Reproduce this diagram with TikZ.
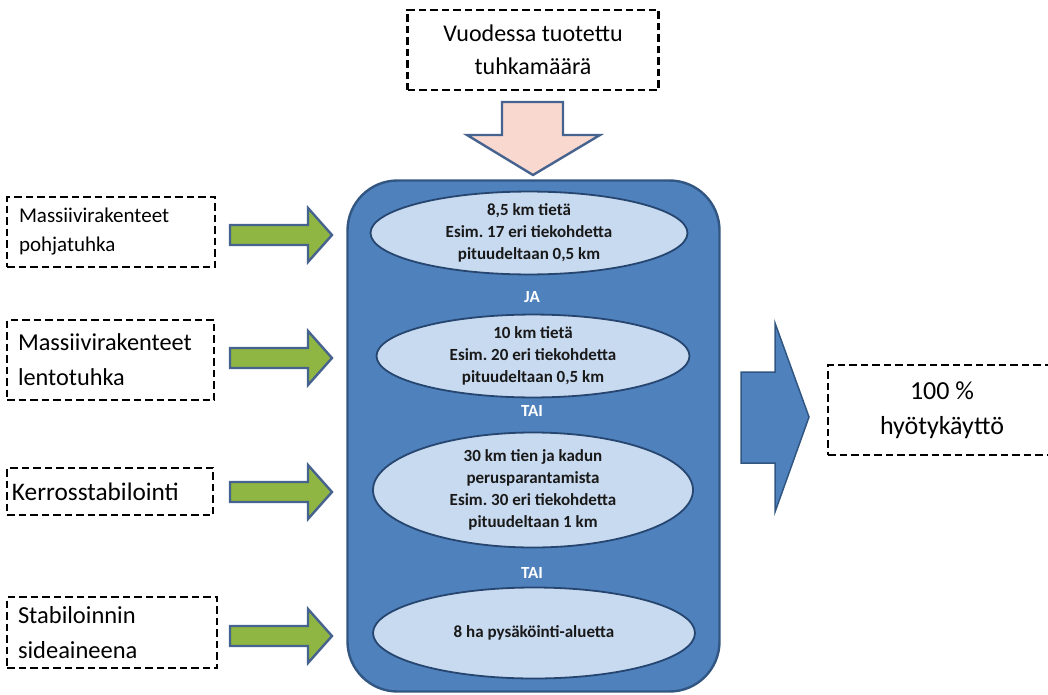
\documentclass[tikz,border=0pt]{standalone}
\usepackage{fontspec}
\setmainfont{Carlito}
\usetikzlibrary{shapes.geometric}
\definecolor{mainblue}{RGB}{79,129,189}
\definecolor{mainborder}{RGB}{50,86,130}
\definecolor{elfill}{RGB}{200,218,240}
\definecolor{elborder}{RGB}{38,70,112}
\definecolor{greenfill}{RGB}{143,181,66}
\definecolor{arrowborder}{RGB}{70,98,142}
\definecolor{pinkfill}{RGB}{248,216,207}
\begin{document}
\frenchspacing
\begin{tikzpicture}[x=1pt,y=-1pt,
  dbox/.style={draw=black, line width=2.4pt, dash pattern=on 7.5pt off 4pt, inner ysep=0pt},
  lbox/.style={dbox, align=left, inner xsep=12pt},
  cbox/.style={dbox, align=center, inner xsep=0pt},
  ell/.style={ellipse, draw=elborder, line width=1.8pt, fill=elfill, inner sep=0pt, align=center,
    text=black!90, font=\bfseries\fontsize{17}{22}\selectfont},
  conj/.style={text=white, font=\bfseries\fontsize{17}{20}\selectfont},
  garrow/.style={draw=arrowborder, line width=2.4pt, fill=greenfill, line join=miter},
  barrow/.style={draw=mainborder, line width=1.5pt, fill=mainblue, line join=miter},
  parrow/.style={draw=arrowborder, line width=2.4pt, fill=pinkfill, line join=miter}]
\useasboundingbox (0,0) rectangle (1048,695);

% top box and down arrow
\node[cbox, minimum width=251pt, minimum height=80pt, font=\fontsize{24}{33}\selectfont] (top) at (533,50) {Vuodessa tuotettu\\tuhkamäärä};
\draw[parrow] (502,102) -- (563,102) -- (563,135) -- (600,135) -- (533,175) -- (467,135) -- (502,135) -- cycle;

% main container
\node[draw=mainborder, line width=2.4pt, fill=mainblue, rounded corners=50pt,
  minimum width=372pt, minimum height=511pt, inner sep=0pt] (main) at (533.5,436) {};

% ellipses
\node[ell, minimum width=317pt, minimum height=80pt] (e1) at (529,233) {8,5 km tietä\\Esim. 17 eri tiekohdetta\\pituudeltaan 0,5 km};
\node[conj] (c1) at (532,297) {JA};
\node[ell, minimum width=313pt, minimum height=82pt] (e2) at (533,356) {10 km tietä\\Esim. 20 eri tiekohdetta\\pituudeltaan 0,5 km};
\node[conj] (c2) at (532,411) {TAI};
\node[ell, minimum width=320pt, minimum height=115pt] (e3) at (533,490) {30 km tien ja kadun\\perusparantamista\\Esim. 30 eri tiekohdetta\\pituudeltaan 1 km};
\node[conj] (c3) at (532,573) {TAI};
\node[ell, minimum width=322pt, minimum height=91pt] (e4) at (534,633) {8 ha pysäköinti-aluetta};

% left boxes
\node[lbox, inner xsep=12pt, text width=184pt, minimum height=70pt, font=\fontsize{21}{29}\selectfont] (b1) at (111,232) {Massiivirakenteet\\pohjatuhka};
\node[lbox, inner xsep=11pt, text width=185pt, minimum height=80pt, font=\fontsize{24.3}{35}\selectfont] (b2) at (110.5,360) {Massiivirakenteet\\lentotuhka};
\node[lbox, inner xsep=5pt, text width=196pt, minimum height=47pt, font=\fontsize{25.3}{35}\selectfont] (b3) at (110,491.5) {Kerrosstabilointi};
\node[lbox, inner xsep=11pt, text width=188pt, minimum height=71pt, font=\fontsize{24.5}{35}\selectfont] (b4) at (112,632.5) {Stabiloinnin\\sideaineena};

% green arrows
\foreach \yy in {235,358,492,636}{
  \draw[garrow, shift={(230,\yy)}] (0,-10) -- (78,-10) -- (78,-27) -- (102,0) -- (78,27) -- (78,10) -- (0,10) -- cycle;
}

% right arrow and box
\draw[barrow] (741,372) -- (775,372) -- (775,323) -- (809,417) -- (775,512) -- (775,463) -- (741,463) -- cycle;
\node[cbox, minimum width=228pt, minimum height=90pt, font=\fontsize{26}{35}\selectfont] (res) at (942,410) {100 \%\\hyötykäyttö};
\end{tikzpicture}
\end{document}
